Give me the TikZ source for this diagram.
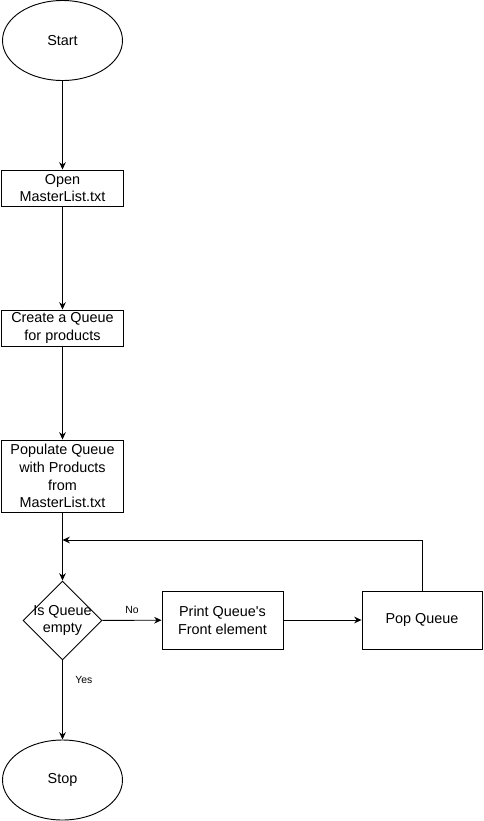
\documentclass[tikz,border=0pt]{standalone}
\usepackage{fontspec}
\setmainfont{Liberation Sans}
\usetikzlibrary{arrows.meta,shapes.geometric}

\begin{document}
\begin{tikzpicture}[x=0.75pt,y=-0.75pt,line width=0.7pt,
		font=\fontsize{10.8}{13.3}\selectfont,
		term/.style={draw,ellipse,minimum width=90pt,minimum height=60pt,inner sep=0pt},
		proc/.style={draw,rectangle,minimum width=91.5pt,minimum height=27pt,inner sep=1pt,align=center},
		test/.style={draw,diamond,aspect=1,minimum width=59.25pt,minimum height=59.25pt,inner sep=-4pt,align=center},
		lbl/.style={font=\fontsize{7.8}{9}\selectfont}]
			\useasboundingbox (0,0) rectangle (483,821);
			\node[term] (v0) at (62.5,  40.5)	{Start};
			\node[proc] (v1) at (62.5, 188)	{Open\\MasterList.txt};
			\node[proc] (v2) at (62.5, 328)	{Create a Queue\\for products};
			\node[proc,minimum height=54pt] (v3) at (62.5, 476)	{Populate Queue\\with Products\\from\\MasterList.txt};
			\node[test] (v4) at (62.5, 620.5)	{Is Queue\\empty};
			\node[proc,minimum width=90.75pt,minimum height=43.5pt] (v5) at (222.5, 620)	{Print Queue\textquotesingle s\\Front element};
			\node[proc,minimum width=90pt,minimum height=43.5pt] (v6) at (422, 620)	{Pop Queue};
			\node[term] (v7) at (62.5, 780)	{Stop};
			\coordinate (j) at (62.5, 540);
			\coordinate (c) at (422, 540);
			
			\def\list {v0/v1, v1/v2, v2/v3, j/v4, v5/v6}  % list elements
			\foreach \u\v in \list
			{	\draw[-{Stealth[length=5.5pt,width=5pt]}] (\u) -- (\v);
			}
			\draw (v3) -- (j);
			\draw[-{Stealth[length=5.5pt,width=5pt]}] (v6) -- (c) -- (j);
			\draw[-{Stealth[length=5.5pt,width=5pt]}] (v4) -- (v5) node [lbl, pos=0.5, above=1pt] {No};
			\draw[-{Stealth[length=5.5pt,width=5pt]}] (v4) -- (v7) node [lbl, pos=0.25, right=6pt] {Yes};
		\end{tikzpicture}
\end{document}
